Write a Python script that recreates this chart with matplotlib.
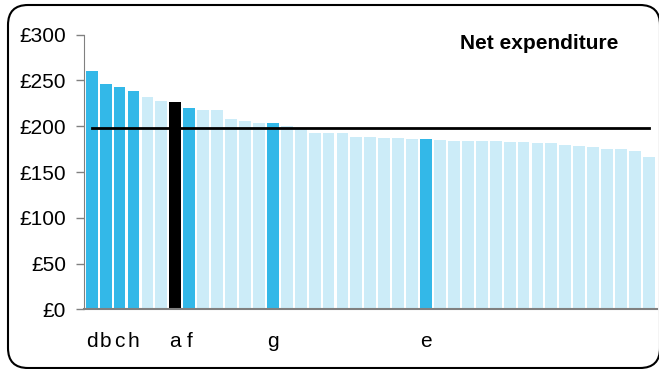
import matplotlib
matplotlib.use("Agg")
import matplotlib.pyplot as plt
import numpy as np
from matplotlib.patches import FancyBboxPatch
from matplotlib.transforms import IdentityTransform

plt.rcParams['font.family'] = ['Liberation Sans', 'DejaVu Sans']

values = [260.3, 246.2, 242.9, 238.5, 231.9, 227.6, 226.5, 219.9, 217.7, 217.7,
          207.9, 205.7, 203.5, 203.5, 200.2, 197.0, 192.5, 192.5, 192.5, 188.2,
          188.2, 187.1, 187.1, 186.0, 186.0, 184.9, 183.8, 183.8, 183.8, 183.8,
          182.8, 182.8, 181.7, 181.7, 179.5, 178.4, 177.3, 175.1, 175.1, 172.9,
          166.4]
labels = ['d', 'b', 'c', 'h', '', '', 'a', 'f', '', '', '', '', '', 'g', '', '',
          '', '', '', '', '', '', '', '', 'e', '', '', '', '', '', '', '', '',
          '', '', '', '', '', '', '', '']
highlight = ['d', 'b', 'c', 'h', 'f', 'g', 'e']
selected = ['a']
average = 198
yticks = [0, 50, 100, 150, 200, 250, 300]
ytick_labels = ['£0', '£50', '£100', '£150', '£200', '£250', '£300']
title = 'Net expenditure'

DARK = '#33B8E8'
LIGHT = '#CCECF8'

colors = []
for lab in labels:
    if lab in selected:
        colors.append('black')
    elif lab in highlight:
        colors.append(DARK)
    else:
        colors.append(LIGHT)

fig = plt.figure(figsize=(6.59, 3.69), dpi=100)
ax = fig.add_axes([84/659, 1-309.3/369, (657-84)/659, (309.3-34.7)/369])

x = np.arange(len(values))
ax.bar(x, values, width=0.85, color=colors, zorder=2)
ax.plot(x, [average]*len(values), color='black', lw=2, zorder=3)

ax.set_xlim(-0.553, 40.58)
ax.set_ylim(0, 300)
ax.set_yticks(yticks)
ax.set_yticklabels(ytick_labels, fontsize=15)
ax.set_xticks(x)
ax.set_xticklabels(labels, fontsize=15)
ax.tick_params(axis='x', length=0, pad=16)
ax.tick_params(axis='y', length=6, width=1, color='#808080', pad=7)

for s in ['top', 'right']:
    ax.spines[s].set_visible(False)
ax.spines['left'].set_color('#808080')
ax.spines['bottom'].set_color('#808080')
ax.spines['bottom'].set_linewidth(1.5)

fig.text(460/659, 1-49/369, title, fontsize=15, fontweight='bold',
         ha='left', va='baseline')

frame = FancyBboxPatch((8, 1), 652, 363, boxstyle='round,pad=0,rounding_size=20',
                       transform=IdentityTransform(), fill=False,
                       edgecolor='black', lw=1.5)
fig.add_artist(frame)

fig.savefig('out.png', dpi=100)
